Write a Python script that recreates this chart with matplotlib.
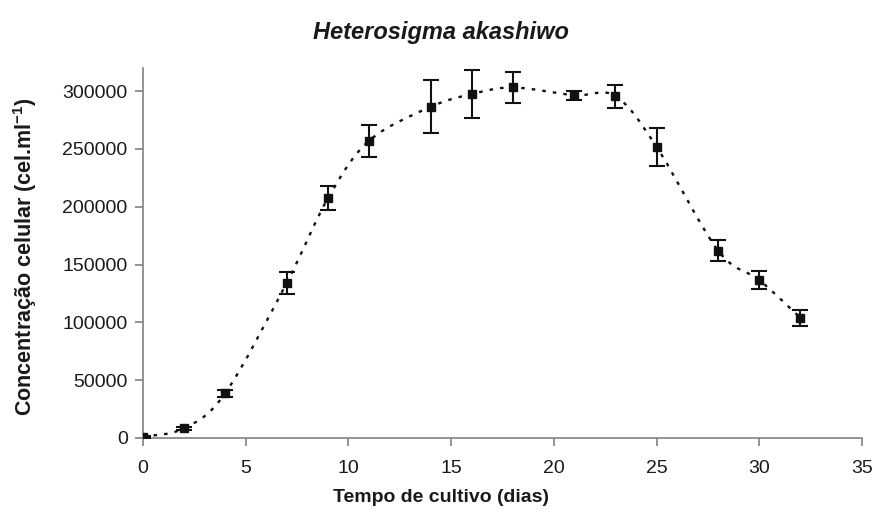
import matplotlib
matplotlib.use("Agg")
import matplotlib.pyplot as plt
from matplotlib.path import Path
from matplotlib.patches import PathPatch
import numpy as np

plt.rcParams['font.family'] = ['Liberation Sans', 'DejaVu Sans']
plt.rcParams['mathtext.fontset'] = 'custom'
plt.rcParams['mathtext.rm'] = 'Liberation Sans'
plt.rcParams['mathtext.bf'] = 'Liberation Sans:bold'

days = [0, 2, 4, 7, 9, 11, 14, 16, 18, 21, 23, 25, 28, 30, 32]
cells = [1100, 8400, 38600, 134300, 207200, 257000, 286400, 297400, 303200,
         296500, 295700, 251900, 162000, 136600, 104000]
errors = [800, 1200, 3000, 9500, 10400, 14000, 23000, 20500, 13600,
          4000, 10000, 16500, 9300, 7600, 6900]

title = 'Heterosigma akashiwo'
xlabel = 'Tempo de cultivo (dias)'
ylabel = r'Concentração celular (cel.ml$^{\mathbf{-1}}$)'
xticks = [0, 5, 10, 15, 20, 25, 30, 35]
yticks = [0, 50000, 100000, 150000, 200000, 250000, 300000]

fig = plt.figure(figsize=(8.76, 5.13), dpi=100)
ax = fig.add_axes([0.1632, 0.1462, 0.8208, 0.7212])

# smoothed line (Bezier through data points, Excel-like smoothing)
x = np.array(days, float)
y = np.array(cells, float)
verts = [(x[0], y[0])]
codes = [Path.MOVETO]
n = len(x)
for i in range(n - 1):
    p0 = np.array([x[max(i - 1, 0)], y[max(i - 1, 0)]])
    p1 = np.array([x[i], y[i]])
    p2 = np.array([x[i + 1], y[i + 1]])
    p3 = np.array([x[min(i + 2, n - 1)], y[min(i + 2, n - 1)]])
    c1 = p1 + (p2 - p0) / 6.0
    c2 = p2 - (p3 - p1) / 6.0
    verts += [tuple(c1), tuple(c2), tuple(p2)]
    codes += [Path.CURVE4] * 3
patch = PathPatch(Path(verts, codes), facecolor='none', edgecolor='#111111',
                  lw=1.7, linestyle=(0, (1.5, 3)), zorder=2)
ax.add_patch(patch)

ax.errorbar(days, cells, yerr=errors, fmt='s', color='#111111', ms=5.5,
            ecolor='#111111', elinewidth=1.5, capsize=5.5, capthick=1.5, zorder=3)

ax.set_xlim(0, 35)
ax.set_ylim(0, 320000)
ax.set_xticks(xticks)
ax.set_yticks(yticks)
ax.set_xticklabels([str(v) for v in xticks])
ax.set_yticklabels([str(v) for v in yticks])

for s in ['top', 'right']:
    ax.spines[s].set_visible(False)
for s in ['left', 'bottom']:
    ax.spines[s].set_color('#808080')
    ax.spines[s].set_linewidth(1.2)
ax.tick_params(axis='both', direction='out', length=6, width=1.2, color='#808080',
               labelsize=14, labelcolor='#1a1a1a')
ax.tick_params(axis='x', pad=10)
ax.tick_params(axis='y', pad=5)

fig.text(0.503, 0.031, xlabel, fontsize=14, fontweight='bold',
         ha='center', va='center', color='#1a1a1a')
fig.text(0.029, 0.500, ylabel, fontsize=15.5, fontweight='bold', rotation=90,
         ha='center', va='center', color='#1a1a1a')
fig.text(0.503, 0.937, title, fontsize=17, fontweight='bold', style='italic',
         ha='center', va='center', color='#1a1a1a')

fig.savefig('out.png', dpi=100)
